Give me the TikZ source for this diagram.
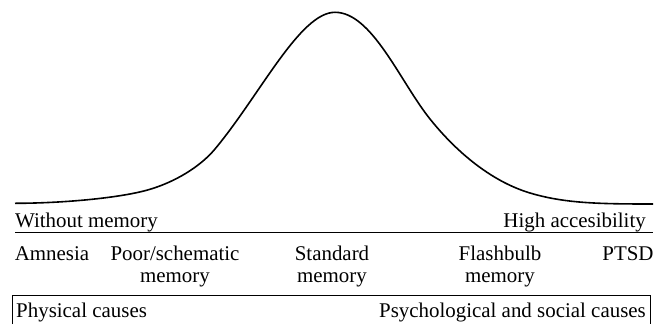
\documentclass[tikz,border=0pt]{standalone}
\usepackage{fontspec}
\setmainfont{Liberation Serif}
\usepackage{tikz}

\newcommand{\lblfont}{\fontsize{21}{22}\selectfont}

\begin{document}
\begin{tikzpicture}[x=1bp, y=1bp,
    lbl/.style={inner sep=0pt, font=\lblfont},
    cat/.style={inner sep=0pt, font=\lblfont, align=center, anchor=base}]
    \useasboundingbox (0,0) rectangle (657,324);

    % Accessibility curve
    \draw[line width=1.6bp] (15,120.7)
        .. controls (60,120.7) and (120,125.7) .. (150,134.7)
        .. controls (175,142.2) and (200,157) .. (215,175)
        .. controls (260,229) and (300,311.7) .. (335,311.7)
        .. controls (372,311.7) and (400,242.5) .. (430,205)
        .. controls (455,173.75) and (490,143) .. (530,131)
        .. controls (565,120.5) and (600,120) .. (653,120);

    % Axis
    \node[lbl, anchor=base west] (nomem) at (15,97) {Without memory};
    \node[lbl, anchor=base east] (highacc) at (646,97) {High accesibility};
    \draw[line width=0.8bp] (15,92) -- (653,92);

    % Kinds of memory (base = last line)
    \node[cat] (amnesia) at (52,64) {Amnesia};
    \node[cat] (poor) at (175,42) {Poor/schematic\\memory};
    \node[cat] (standard) at (332,42) {Standard\\memory};
    \node[cat] (flash) at (500,42) {Flashbulb\\memory};
    \node[cat] (ptsd) at (628,64) {PTSD};

    % Causes
    \draw[line width=0.8bp] (12,0) |- (650,29) -- (650,0);
    \node[lbl, anchor=base west] (physical) at (16,7) {Physical causes};
    \node[lbl, anchor=base east] (psych) at (646,7) {Psychological and social causes};
\end{tikzpicture}
\end{document}
